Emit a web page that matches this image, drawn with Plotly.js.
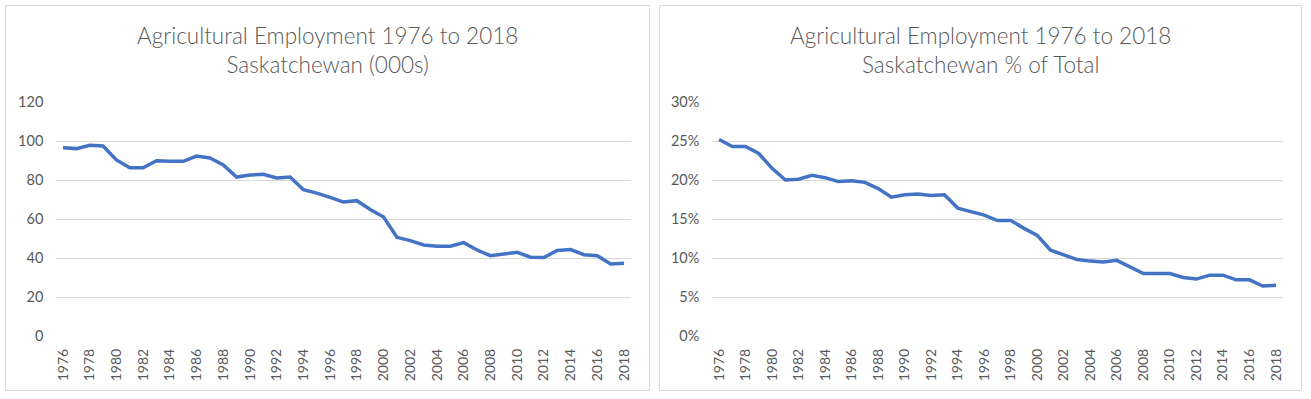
<!DOCTYPE html>
<html>
<head>
<meta charset="utf-8">
<script src="https://cdn.plot.ly/plotly-3.0.1.min.js"></script>
<style>html,body{margin:0;padding:0;background:#fff;}#chart{width:1311px;height:399px;}</style>
</head>
<body>
<div id="chart"></div>
<script>
const years = ["1976","1977","1978","1979","1980","1981","1982","1983","1984","1985","1986","1987","1988","1989","1990","1991","1992","1993","1994","1995","1996","1997","1998","1999","2000","2001","2002","2003","2004","2005","2006","2007","2008","2009","2010","2011","2012","2013","2014","2015","2016","2017","2018"];
const employment000s = [96.6,96.1,97.8,97.4,90.3,86.3,86.3,89.9,89.6,89.6,92.3,91.3,87.7,81.5,82.6,82.9,81.0,81.5,75.0,73.3,71.1,68.7,69.4,64.9,61.0,50.6,48.9,46.7,46.0,46.0,47.9,44.1,41.2,42.1,42.9,40.4,40.2,43.9,44.3,41.7,41.2,36.9,37.3];
const employmentPct = [25.2,24.3,24.3,23.4,21.5,20.0,20.1,20.6,20.3,19.8,19.9,19.7,18.9,17.8,18.1,18.2,18.0,18.1,16.4,16.0,15.5,14.8,14.8,13.8,12.9,11.0,10.4,9.8,9.6,9.5,9.7,8.8,8.0,8.0,8.0,7.5,7.3,7.8,7.8,7.2,7.2,6.4,6.5];
const titleLeft = "Agricultural Employment 1976 to 2018<br>Saskatchewan (000s)";
const titleRight = "Agricultural Employment 1976 to 2018<br>Saskatchewan % of Total";

const W = 1311, H = 399;
const FONT = "Lato, 'Open Sans', sans-serif";
const TXT = "#595959", GRID = "#d9d9d9", LINE = "#4472c4";
const px = v => v / W, py = v => (H - v) / H;

const traces = [
  {x: years, y: employment000s, xaxis: "x", yaxis: "y", type: "scatter", mode: "lines",
   line: {color: LINE, width: 3.5, shape: "linear"}, hoverinfo: "x+y"},
  {x: years, y: employmentPct, xaxis: "x2", yaxis: "y2", type: "scatter", mode: "lines",
   line: {color: LINE, width: 3.5}, hoverinfo: "x+y"}
];

function xax(d0, d1, anchor) {
  return {domain: [px(d0), px(d1)], anchor: anchor, type: "category",
    range: [-0.5, 42.5], tickmode: "linear", tick0: 0, dtick: 2, tickangle: -90,
    showgrid: false, zeroline: false, showline: false, ticks: "",
    ticklabelstandoff: 9,
    tickfont: {family: FONT, size: 14, color: TXT}, fixedrange: true};
}
function yax(anchor, suffix, dt, maxv) {
  return {domain: [py(336), py(102)], anchor: anchor, range: [0, maxv],
    tickmode: "linear", tick0: 0, dtick: dt, ticksuffix: suffix,
    showgrid: true, gridcolor: GRID, gridwidth: 1, zeroline: false, showline: false, ticks: "",
    ticklabelstandoff: 12,
    tickfont: {family: FONT, size: 14.5, color: TXT}, fixedrange: true};
}

const layout = {
  width: W, height: H, margin: {l: 0, r: 0, t: 0, b: 0},
  paper_bgcolor: "#ffffff", plot_bgcolor: "rgba(0,0,0,0)", showlegend: false,
  font: {family: FONT, color: TXT},
  xaxis: xax(56.3, 630.7, "y"),
  yaxis: yax("x", "", 20, 120),
  xaxis2: xax(712.4, 1282.6, "y2"),
  yaxis2: yax("x2", "%", 5, 30),
  annotations: [
    {text: titleLeft, xref: "paper", yref: "paper", x: px(327), y: py(50.5), xanchor: "center", yanchor: "middle",
     showarrow: false, font: {family: FONT, size: 22.5, color: TXT, weight: 300}},
    {text: titleRight, xref: "paper", yref: "paper", x: px(980.5), y: py(50.5), xanchor: "center", yanchor: "middle",
     showarrow: false, font: {family: FONT, size: 22.5, color: TXT, weight: 300}}
  ],
  shapes: [
    {type: "rect", xref: "paper", yref: "paper", x0: px(5.5), x1: px(649.5), y0: py(390.5), y1: py(5.5),
     line: {color: GRID, width: 1}, fillcolor: "rgba(0,0,0,0)"},
    {type: "rect", xref: "paper", yref: "paper", x0: px(659.5), x1: px(1301.5), y0: py(390.5), y1: py(5.5),
     line: {color: GRID, width: 1}, fillcolor: "rgba(0,0,0,0)"}
  ]
};

Plotly.newPlot("chart", traces, layout, {displayModeBar: false, staticPlot: true});
</script>
</body>
</html>
